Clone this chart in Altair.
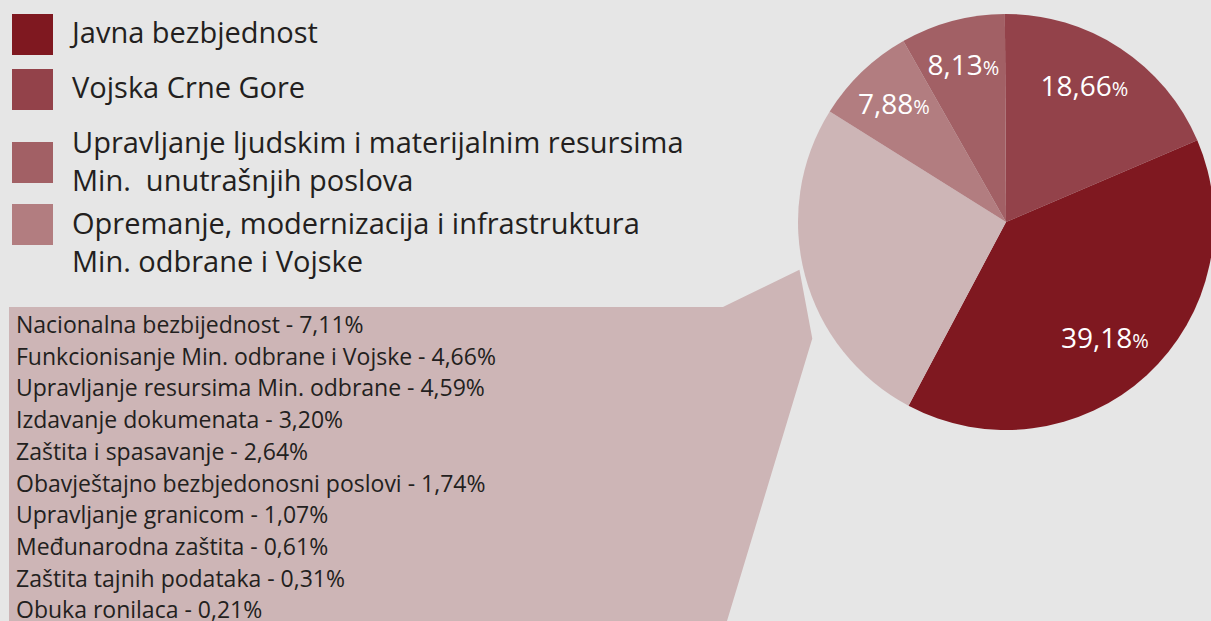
import math

import altair as alt
import pandas as pd

W, H = 1211, 621
BG = "#e6e6e6"
FONT = "Open Sans"
TEXT_COLOR = "#231f20"

# Main programmes, share of the total budget (%)
main_names = [
    "Javna bezbjednost",
    "Vojska Crne Gore",
    "Upravljanje ljudskim i materijalnim resursima\nMin.\u00a0 unutrašnjih poslova",
    "Opremanje, modernizacija i infrastruktura\nMin. odbrane i Vojske",
]
main_values = [39.18, 18.66, 8.13, 7.88]
main_colors = ["#7f1820", "#93424a", "#a26065", "#b27d80"]

# Smaller programmes, grouped into one slice and listed in the callout box
other_names = [
    "Nacionalna bezbijednost",
    "Funkcionisanje Min. odbrane i Vojske",
    "Upravljanje resursima Min. odbrane",
    "Izdavanje dokumenata",
    "Zaštita i spasavanje",
    "Obavještajno bezbjedonosni poslovi",
    "Upravljanje granicom",
    "Međunarodna zaštita",
    "Zaštita tajnih podataka",
    "Obuka ronilaca",
]
other_values = [7.11, 4.66, 4.59, 3.20, 2.64, 1.74, 1.07, 0.61, 0.31, 0.21]
other_color = "#cdb5b6"


def fmt(v):
    return f"{v:.2f}".replace(".", ",")


# ---- pie geometry -------------------------------------------------------
CX, CY, R = 1006, 222, 208
LABEL_R = 160
CALLOUT_DIR = math.radians(255)  # direction the grouped slice faces

rest_value = round(sum(other_values), 2)
# clockwise order starting at the top
slice_keys = ["vojska", "javna", "ostalo", "opremanje", "upravljanje"]
slice_values = [main_values[1], main_values[0], rest_value, main_values[3], main_values[2]]
slice_colors = [main_colors[1], main_colors[0], other_color, main_colors[3], main_colors[2]]
slice_labels = [fmt(main_values[1]), fmt(main_values[0]), "", fmt(main_values[3]), fmt(main_values[2])]
total = sum(slice_values)

before_rest = slice_values[0] + slice_values[1]
offset = CALLOUT_DIR - 2 * math.pi * (before_rest + rest_value / 2) / total

pie_df = pd.DataFrame({
    "key": slice_keys,
    "value": slice_values,
    "color": slice_colors,
    "order": list(range(len(slice_keys))),
    "label": slice_labels,
    "pct": ["%" if s else "" for s in slice_labels],
})

theta = alt.Theta("value:Q", stack=True,
                  scale=alt.Scale(range=[offset, offset + 2 * math.pi]))
pie_base = alt.Chart(pie_df).encode(
    theta=theta,
    order=alt.Order("order:Q"),
)

arcs = pie_base.mark_arc(outerRadius=R, stroke=None).encode(
    x=alt.value(CX), y=alt.value(CY),
    color=alt.Color("color:N", scale=None),
)
num_labels = pie_base.mark_text(
    radius=LABEL_R, font=FONT, fontSize=28, color="white",
    align="right", baseline="middle", dx=18,
).encode(x=alt.value(CX), y=alt.value(CY), text="label:N")
pct_labels = pie_base.mark_text(
    radius=LABEL_R, font=FONT, fontSize=20, color="white",
    align="left", baseline="middle", dx=18, dy=2,
).encode(x=alt.value(CX), y=alt.value(CY), text="pct:N")

# ---- callout box pointing at the grouped slice ---------------------------
rest_mid = CALLOUT_DIR


def polar(a, r):
    return CX + r * math.sin(a), CY - r * math.cos(a)


tip_a = polar(rest_mid + math.radians(2), R + 4)
tip_b = polar(rest_mid - math.radians(16), R + 18)
BOX_L, BOX_T, BOX_R_TOP, BOX_R_BOT = 9, 307, 723, 727


def lerp(x, x0, y0, x1, y1):
    return y0 + (y1 - y0) * (x - x0) / (x1 - x0)


def top_edge(x):
    if x <= BOX_R_TOP:
        return BOX_T
    if x <= tip_a[0]:
        return lerp(x, BOX_R_TOP, BOX_T, tip_a[0], tip_a[1])
    return lerp(x, tip_a[0], tip_a[1], tip_b[0], tip_b[1])


def bottom_edge(x):
    if x <= BOX_R_BOT:
        return H
    return lerp(x, BOX_R_BOT, H, tip_b[0], tip_b[1])


xs = [BOX_L, BOX_R_TOP, BOX_R_BOT, tip_a[0], tip_b[0]]
callout_df = pd.DataFrame({
    "x": xs,
    "top": [top_edge(x) for x in xs],
    "bottom": [bottom_edge(x) for x in xs],
})
callout = alt.Chart(callout_df).mark_area(color=other_color, interpolate="linear").encode(
    x=alt.X("x:Q", scale=None, axis=None),
    y=alt.Y("top:Q", scale=None, axis=None),
    y2="bottom:Q",
)

# ---- list of the grouped programmes -------------------------------------
LIST_X, LIST_Y0, LIST_STEP = 16, 333, 31.7
list_df = pd.DataFrame({
    "line": [f"{n} - {fmt(v)}%" for n, v in zip(other_names, other_values)],
    "y": [LIST_Y0 + i * LIST_STEP for i in range(len(other_names))],
})
list_text = alt.Chart(list_df).mark_text(
    align="left", baseline="alphabetic", font=FONT, fontSize=23, color=TEXT_COLOR,
).encode(
    x=alt.value(LIST_X),
    y=alt.Y("y:Q", scale=None, axis=None),
    text="line:N",
)

# ---- legend ---------------------------------------------------------------
SW = 41
legend_square_top = [14, 69, 142, 204]
legend_text_base = [43, 98, 153, 234]
legend_df = pd.DataFrame({
    "name": main_names,
    "color": main_colors,
    "x0": [12] * 4,
    "x1": [12 + SW] * 4,
    "y0": legend_square_top,
    "y1": [t + SW for t in legend_square_top],
    "ty": legend_text_base,
})
legend_sq = alt.Chart(legend_df).mark_rect().encode(
    x=alt.X("x0:Q", scale=None, axis=None), x2="x1:Q",
    y=alt.Y("y0:Q", scale=None, axis=None), y2="y1:Q",
    color=alt.Color("color:N", scale=None),
)
legend_txt = alt.Chart(legend_df).mark_text(
    align="left", baseline="alphabetic", font=FONT, fontSize=29,
    color=TEXT_COLOR, lineBreak="\n", lineHeight=38,
).encode(
    x=alt.value(72),
    y=alt.Y("ty:Q", scale=None, axis=None),
    text="name:N",
)

chart = alt.layer(
    callout, arcs, num_labels, pct_labels, list_text, legend_sq, legend_txt
).properties(
    width=W, height=H, background=BG, padding=0,
    autosize=alt.AutoSizeParams(type="none"),
).configure_view(stroke=None, fill=BG)

chart.save("out.html", embed_options={"renderer": "svg", "actions": False})
